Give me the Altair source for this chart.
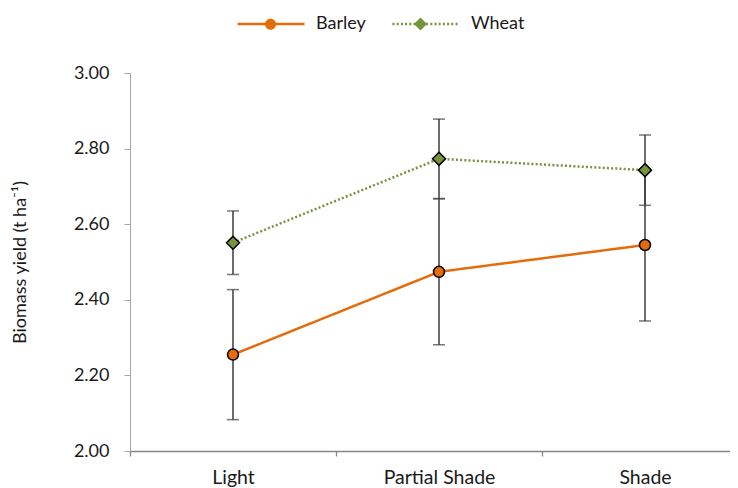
import altair as alt
import pandas as pd

categories = ["Light", "Partial Shade", "Shade"]
series_names = ["Barley", "Wheat"]
barley_mean = [2.255, 2.474, 2.545]
barley_err = [0.172, 0.193, 0.201]
wheat_mean = [2.551, 2.773, 2.743]
wheat_err = [0.084, 0.105, 0.093]
y_ticks = [2.0, 2.2, 2.4, 2.6, 2.8, 3.0]

colors = ["#E46C0A", "#77933C"]
dashes = [[1, 0], [2, 2.2]]
circle_path = "M0.164,0A0.164,0.164,0,1,1,-0.164,0A0.164,0.164,0,1,1,0.164,0Z"
diamond_path = "M0,-0.195L0.195,0L0,0.195L-0.195,0Z"
marker_names = [s + " marker" for s in series_names]

rows = []
for name, means, errs in [("Barley", barley_mean, barley_err), ("Wheat", wheat_mean, wheat_err)]:
    for c, m, e in zip(categories, means, errs):
        rows.append({"series": name, "marker": name + " marker", "category": c,
                     "mean": m, "low": m - e, "high": m + e})
df = pd.DataFrame(rows)

FONT = "Lato"
SYM = 4489
TXT = "#1a1a1a"

x_enc = alt.X(
    "category:N",
    sort=categories,
    scale=alt.Scale(type="band", domain=categories, range=[0, 618], paddingInner=0, paddingOuter=0),
    axis=alt.Axis(
        title=None, tickBand="extent", labelAngle=0, labelFont=FONT, labelFontSize=19.5,
        labelColor=TXT, labelPadding=12, tickSize=5, domainColor="#868686",
        tickColor="#868686", domainWidth=1.3, tickWidth=1.3,
    ),
)
y_scale = alt.Scale(domain=[2, 3], nice=False, zero=False)
y_axis = alt.Axis(
    values=y_ticks, format=".2f", title="Biomass yield (t ha⁻¹)", grid=False,
    tickSize=6, labelPadding=15, domainColor="#A6A6A6", tickColor="#A6A6A6",
    labelFont=FONT, labelFontSize=18, labelColor=TXT,
    titleFont=FONT, titleFontSize=18, titleFontWeight="normal", titleColor=TXT,
    titleX=-110, titleY=189, titleAngle=-90, titleBaseline="middle", titleAlign="center",
)

leg_common = dict(
    title=None, orient="none", legendX=106, legendY=-84, direction="horizontal",
    labelFont=FONT, labelFontSize=18, labelColor=TXT, labelOffset=10,
    symbolSize=SYM,
)
leg_line = alt.Legend(symbolType="stroke", symbolStrokeWidth=2.5, columnPadding=21, **leg_common)
leg_pts = alt.Legend(symbolStrokeColor="black", symbolStrokeWidth=1.5,
                     symbolOpacity=1, labelExpr="''", columnPadding=71,
                     **leg_common)

base = alt.Chart(df)
ERR = "#3c3c3c"

err_rule = base.mark_rule(color=ERR, strokeWidth=1.5).encode(
    x=x_enc, y=alt.Y("low:Q", scale=y_scale, axis=y_axis), y2="high:Q"
)
cap_low = base.mark_tick(color=ERR, size=12, thickness=1.5).encode(
    x=x_enc, y=alt.Y("low:Q", scale=y_scale)
)
cap_high = base.mark_tick(color=ERR, size=12, thickness=1.5).encode(
    x=x_enc, y=alt.Y("high:Q", scale=y_scale)
)
lines = base.mark_line(strokeWidth=2.5).encode(
    x=x_enc,
    y=alt.Y("mean:Q", scale=y_scale),
    color=alt.Color("series:N", scale=alt.Scale(domain=series_names, range=colors), legend=leg_line),
    strokeDash=alt.StrokeDash("series:N", scale=alt.Scale(domain=series_names, range=dashes), legend=leg_line),
)
points = base.mark_point(filled=True, stroke="black", strokeWidth=1.5, size=SYM, opacity=1).encode(
    x=x_enc,
    y=alt.Y("mean:Q", scale=y_scale),
    fill=alt.Fill("marker:N", scale=alt.Scale(domain=marker_names, range=colors), legend=leg_pts),
    shape=alt.Shape("marker:N", scale=alt.Scale(domain=marker_names, range=[circle_path, diamond_path]), legend=leg_pts),
)

chart = alt.layer(err_rule, cap_low, cap_high, lines, points).properties(
    width=600, height=378,
    autosize=alt.AutoSizeParams(type="none"),
    padding={"left": 122, "top": 65, "right": 0, "bottom": 37},
).configure_view(stroke=None)

chart.save("out.html", embed_options={"renderer": "svg", "actions": False})
